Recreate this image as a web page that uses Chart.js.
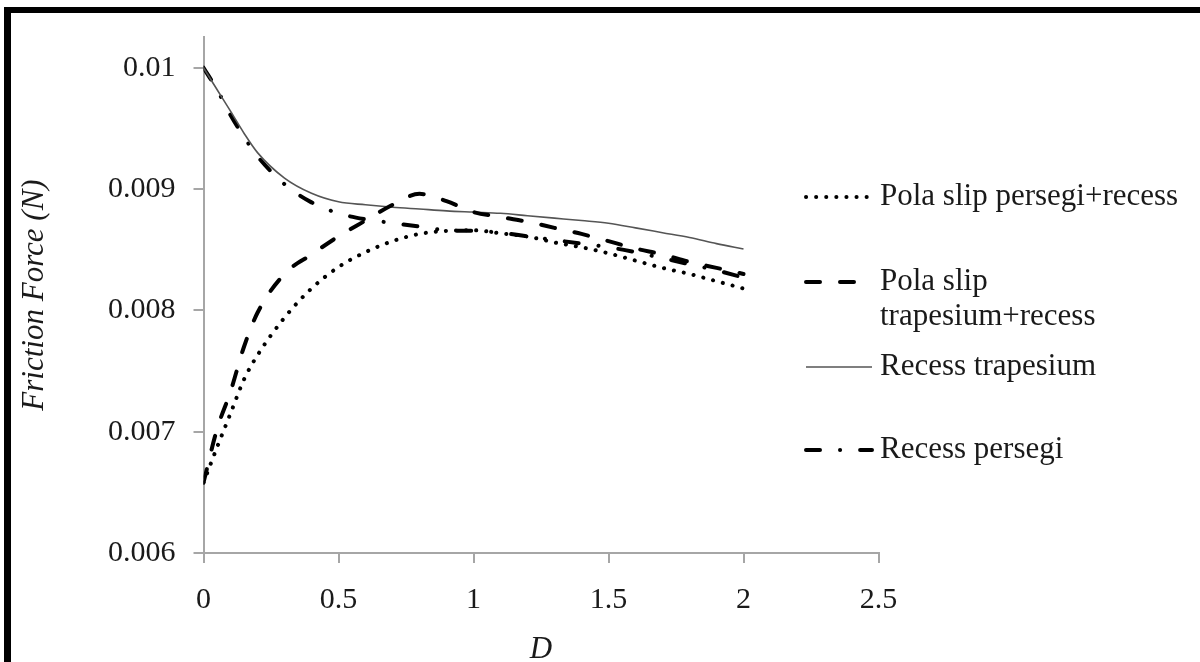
<!DOCTYPE html>
<html>
<head>
<meta charset="utf-8">
<script src="https://cdn.jsdelivr.net/npm/chart.js@4.4.1/dist/chart.umd.min.js"></script>
<style>
  html, body { margin:0; padding:0; background:#fff; }
  #wrap { position:relative; width:1200px; height:662px; overflow:hidden; }
  .bar { position:absolute; background:#000; }
</style>
</head>
<body>
<div id="wrap">
  <canvas id="chart" width="1200" height="662"></canvas>
  <div class="bar" style="left:4px;top:7px;width:1196px;height:6px"></div>
  <div class="bar" style="left:4px;top:7px;width:7px;height:655px"></div>
</div>
<script>
// D values (x) shared by all series
const dValues = [0, 0.05, 0.1, 0.15, 0.2, 0.3, 0.4, 0.5, 0.6, 0.7, 0.8, 0.9, 1.0, 1.1, 1.2, 1.3, 1.4, 1.5, 1.6, 1.7, 1.8, 1.9, 2.0];

const seriesNames = ['Pola slip persegi+recess', 'Pola slip trapesium+recess', 'Recess trapesium', 'Recess persegi'];

const slipPersegi = [0.00658, 0.00687, 0.00715, 0.00743, 0.00763, 0.00794, 0.00818, 0.008357, 0.00848, 0.00857, 0.00863, 0.008655, 0.00866, 0.008635, 0.008608, 0.00856, 0.00852, 0.00847, 0.00841, 0.00835, 0.0083, 0.00824, 0.00818];
const slipTrapesium = [0.00658, 0.00702, 0.00733, 0.0077, 0.00798, 0.0083, 0.00846, 0.00861, 0.00874, 0.00887, 0.00896, 0.0089, 0.00881, 0.00877, 0.00873, 0.00868, 0.00863, 0.00857, 0.00851, 0.00846, 0.0084, 0.00835, 0.0083];
const recessTrapesium = [0.01, 0.00982, 0.009642, 0.00946, 0.0093, 0.00909, 0.008965, 0.008895, 0.00887, 0.00885, 0.008835, 0.00882, 0.00881, 0.0088, 0.00878, 0.00876, 0.00874, 0.008718, 0.00868, 0.00864, 0.0086, 0.00855, 0.008506];
const recessPersegi = [0.01, 0.00982, 0.00961, 0.00943, 0.00927, 0.00904, 0.00889, 0.0088, 0.00875, 0.00872, 0.00869, 0.00866, 0.008655, 0.00864, 0.00861, 0.00858, 0.00855, 0.00852, 0.00848, 0.00843, 0.00838, 0.00833, 0.00827];

const yTicks = [0.006, 0.007, 0.008, 0.009, 0.01];

const serif = '"Liberation Serif", "Times New Roman", serif';
const axisColor = '#a6a6a6';
const textColor = '#1a1a1a';

function pts(arr){ return arr.map((v,i)=>({x:dValues[i], y:v})); }
function fmt(v, d){ return String(Number(v.toFixed(d))); }

// draws the legend on the right, wrapped like the original
const sideLegend = {
  id: 'sideLegend',
  afterDraw(chart){
    const ctx = chart.ctx;
    const rows = [197, 282, 367, 450];
    const x1 = 806, x2 = 872, tx = 880, lh = 35, maxW = 310;
    ctx.save();
    ctx.font = '31px ' + serif;
    ctx.fillStyle = textColor;
    ctx.textBaseline = 'middle';
    ctx.textAlign = 'left';
    chart.data.datasets.forEach((ds,i)=>{
      const y = rows[i];
      ctx.save();
      ctx.strokeStyle = ds.borderColor;
      ctx.lineWidth = ds.borderWidth;
      ctx.lineCap = ds.borderCapStyle || 'butt';
      ctx.setLineDash(ds.borderDash || []);
      ctx.beginPath(); ctx.moveTo(x1, y); ctx.lineTo(x2, y); ctx.stroke();
      ctx.restore();
      // simple word wrap
      const words = ds.label.split(' ');
      let line = '', lines = [];
      words.forEach(w=>{
        const test = line ? line + ' ' + w : w;
        if(ctx.measureText(test).width > maxW && line){ lines.push(line); line = w; }
        else line = test;
      });
      lines.push(line);
      lines.forEach((l,k)=> ctx.fillText(l, tx, y + k*lh));
    });
    ctx.restore();
  }
};

new Chart(document.getElementById('chart'), {
  type: 'line',
  data: {
    datasets: [
      {label: seriesNames[0], data: pts(slipPersegi), borderColor:'#000', borderWidth:4, borderDash:[0.1, 10], borderCapStyle:'round'},
      {label: seriesNames[1], data: pts(slipTrapesium), borderColor:'#000', borderWidth:4, borderDash:[14, 20], borderCapStyle:'round'},
      {label: seriesNames[2], data: pts(recessTrapesium), borderColor:'#555', borderWidth:1.6},
      {label: seriesNames[3], data: pts(recessPersegi), borderColor:'#000', borderWidth:4, borderDash:[14, 20, 0.1, 20], borderCapStyle:'round'}
    ]
  },
  options: {
    responsive: false,
    animation: false,
    layout: {padding: {left:0, right:321.5, top:37, bottom:0}},
    elements: {point:{radius:0}, line:{cubicInterpolationMode:'monotone', fill:false}},
    plugins: {legend:{display:false}, tooltip:{enabled:false}},
    scales: {
      x: {
        type:'linear', min:0, max:2.5,
        ticks:{stepSize:0.5, padding:19, color:textColor, maxRotation:0, font:{family:serif, size:30}, callback: v=> fmt(v, 2)},
        grid:{drawOnChartArea:false, drawTicks:true, tickLength:10, color:axisColor, lineWidth:2},
        border:{color:axisColor, width:2},
        title:{display:true, text:'D', color:textColor, padding:0, font:{family:serif, size:31, style:'italic', lineHeight:0.8}},
        afterFit: s=>{ s.height = 109; }
      },
      y: {
        type:'linear', min:0.006, max:0.010253,
        afterBuildTicks: s=>{ s.ticks = yTicks.map(v=>({value:v})); },
        ticks:{padding:18, color:textColor, font:{family:serif, size:30}, callback: v=> fmt(v, 3)},
        grid:{drawOnChartArea:false, drawTicks:true, tickLength:10, color:axisColor, lineWidth:2},
        border:{color:axisColor, width:2},
        title:{display:true, text:'Friction Force (N)', color:textColor, padding:{top:16, bottom:0}, font:{family:serif, size:31, style:'italic'}},
        afterFit: s=>{ s.width = 203.5; }
      }
    }
  },
  plugins: [sideLegend]
});
</script>
</body>
</html>
